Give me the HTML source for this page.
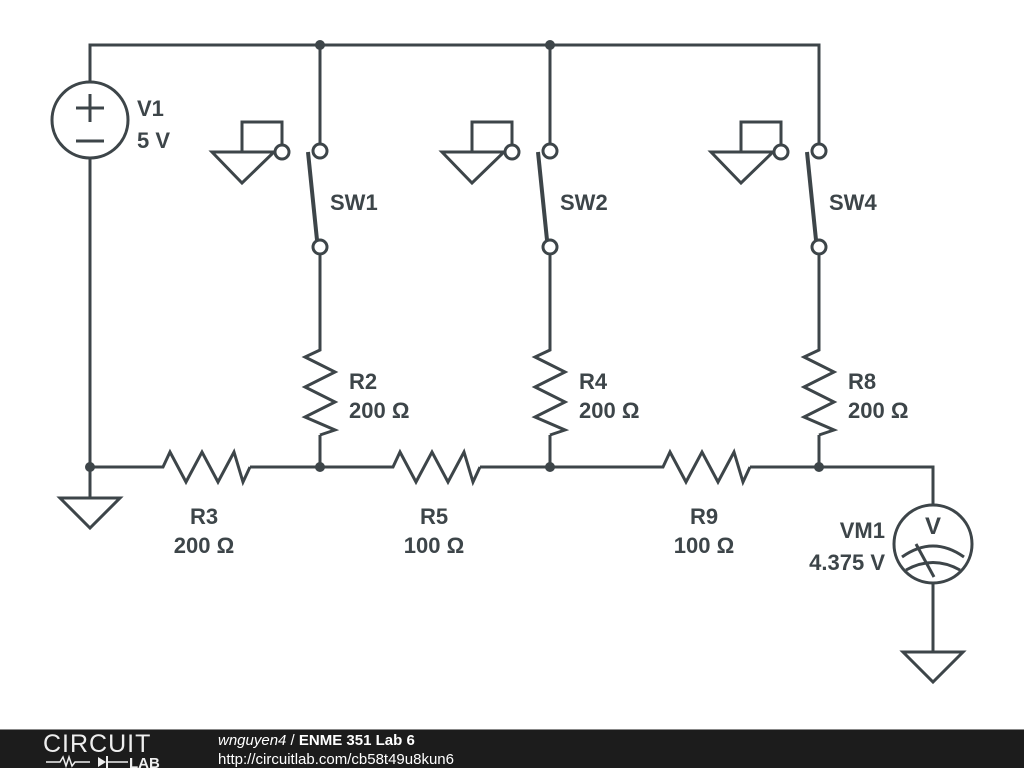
<!DOCTYPE html>
<html><head><meta charset="utf-8"><style>
html,body{margin:0;padding:0;background:#fff;width:1024px;height:768px;overflow:hidden}
svg{display:block}
text{font-family:"Liberation Sans",sans-serif;font-weight:bold;font-size:22px;fill:#3d4549}
</style></head><body>
<svg width="1024" height="768" viewBox="0 0 1024 768">
<defs>
<g id="rv"><polyline points="0,0 0,5 -15,12 15,27 -15,42 15,57 -15,72 15,85 0,90" fill="none"/></g>
<g id="rh"><polyline points="0,0 8,0 15,-15 31,15 47,-15 63,15 79,-15 88,15 95,0" fill="none"/></g>
<g id="sg"><polyline points="242,152 242,122 282,122 282,145" fill="none"/><polygon points="212,152 274,152 242,183" fill="none"/><circle cx="282" cy="152" r="7" fill="#fff"/></g>
</defs>
<g stroke="#3d4549" stroke-width="3" fill="none" stroke-linejoin="miter">
<polyline points="90,82 90,45 819,45 819,144"/>
<line x1="90" y1="158" x2="90" y2="498"/>
<circle cx="90" cy="120" r="38"/>
<line x1="76" y1="108" x2="104" y2="108"/><line x1="90" y1="94" x2="90" y2="122"/>
<line x1="76" y1="141" x2="104" y2="141"/>
<polygon points="60,498 120,498 90,528"/>
<line x1="320" y1="45" x2="320" y2="144"/><line x1="550" y1="45" x2="550" y2="144"/>
<line x1="320" y1="254" x2="320" y2="345"/><line x1="550" y1="254" x2="550" y2="345"/><line x1="819" y1="254" x2="819" y2="345"/>
<line x1="320" y1="435" x2="320" y2="467"/><line x1="550" y1="435" x2="550" y2="467"/><line x1="819" y1="435" x2="819" y2="467"/>
<circle cx="320" cy="151" r="7"/><circle cx="320" cy="247" r="7"/>
<circle cx="550" cy="151" r="7"/><circle cx="550" cy="247" r="7"/>
<circle cx="819" cy="151" r="7"/><circle cx="819" cy="247" r="7"/>
<line x1="308" y1="152" x2="317" y2="240" stroke-width="4"/>
<line x1="538" y1="152" x2="547" y2="240" stroke-width="4"/>
<line x1="807" y1="152" x2="816" y2="240" stroke-width="4"/>
<use href="#sg"/><use href="#sg" transform="translate(230,0)"/><use href="#sg" transform="translate(499,0)"/>
<use href="#rv" transform="translate(320,345)"/><use href="#rv" transform="translate(550,345)"/><use href="#rv" transform="translate(819,345)"/>
<line x1="90" y1="467" x2="155" y2="467"/><line x1="250" y1="467" x2="385" y2="467"/><line x1="480" y1="467" x2="655" y2="467"/>
<polyline points="750,467 933,467 933,505"/>
<use href="#rh" transform="translate(155,467)"/><use href="#rh" transform="translate(385,467)"/><use href="#rh" transform="translate(655,467)"/>
<circle cx="933" cy="544" r="39"/>
<line x1="933" y1="583" x2="933" y2="652"/>
<polygon points="903,652 963,652 933,682"/>
<path d="M902,557 Q933,535 964,557"/><path d="M906,570 Q933,555 960,570"/>
<line x1="916" y1="544" x2="934" y2="577"/>
</g>
<g fill="#3d4549">
<circle cx="320" cy="45" r="5"/><circle cx="550" cy="45" r="5"/>
<circle cx="90" cy="467" r="5"/><circle cx="320" cy="467" r="5"/><circle cx="550" cy="467" r="5"/><circle cx="819" cy="467" r="5"/>
</g>
<text x="137" y="116">V1</text><text x="137" y="148">5 V</text>
<text x="330" y="210">SW1</text><text x="560" y="210">SW2</text><text x="829" y="210">SW4</text>
<text x="349" y="389">R2</text><text x="349" y="418">200 Ω</text>
<text x="579" y="389">R4</text><text x="579" y="418">200 Ω</text>
<text x="848" y="389">R8</text><text x="848" y="418">200 Ω</text>
<text x="204" y="524" text-anchor="middle">R3</text><text x="204" y="553" text-anchor="middle">200 Ω</text>
<text x="434" y="524" text-anchor="middle">R5</text><text x="434" y="553" text-anchor="middle">100 Ω</text>
<text x="704" y="524" text-anchor="middle">R9</text><text x="704" y="553" text-anchor="middle">100 Ω</text>
<text x="885" y="538" text-anchor="end">VM1</text><text x="885" y="570" text-anchor="end">4.375 V</text>
<text x="933" y="534" text-anchor="middle" style="font-size:24px">V</text>
<rect x="0" y="729" width="1024" height="39" fill="#1c1c1c"/>
<line x1="0" y1="729.5" x2="1024" y2="729.5" stroke="#888" stroke-width="1"/>
<text x="43" y="752" style="font-weight:normal;font-size:25px;fill:#eee;letter-spacing:1px">CIRCUIT</text>
<polyline points="46,762 60,762 63,757 66,766 69,757 72,766 75,762 90,762" stroke="#eee" stroke-width="1.5" fill="none"/>
<polygon points="98,757 98,767 106,762" fill="#eee"/><line x1="107" y1="756" x2="107" y2="768" stroke="#eee" stroke-width="2"/>
<line x1="107" y1="762" x2="128" y2="762" stroke="#eee" stroke-width="1.5"/>
<text x="129" y="768" style="font-size:15px;fill:#eee">LAB</text>
<text x="218" y="745" style="font-size:15px;fill:#fff;font-weight:normal"><tspan font-style="italic">wnguyen4</tspan> / <tspan font-weight="bold">ENME 351 Lab 6</tspan></text>
<text x="218" y="764" style="font-size:15px;fill:#fff;font-weight:normal">http://circuitlab.com/cb58t49u8kun6</text>
</svg>
</body></html>
